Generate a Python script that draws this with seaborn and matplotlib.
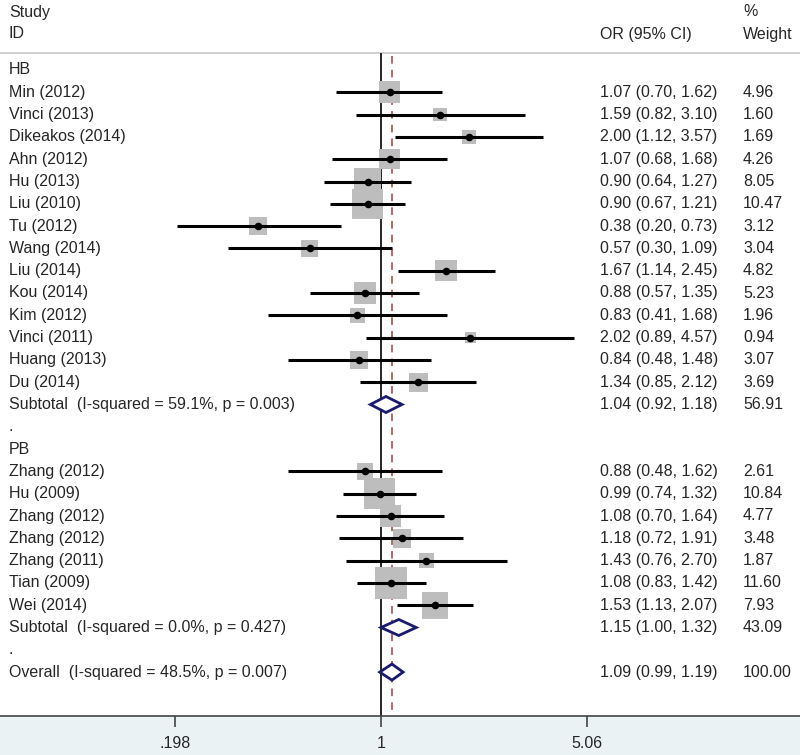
import numpy as np
import pandas as pd
import matplotlib
matplotlib.use("Agg")
import matplotlib.pyplot as plt
import matplotlib.transforms as mtransforms
from matplotlib.patches import Polygon
import seaborn as sns

sns.set_theme(style="white")
plt.rcParams["font.family"] = ["Liberation Sans", "DejaVu Sans"]

# --- dane ---
hb_studies = ["Min (2012)", "Vinci (2013)", "Dikeakos (2014)", "Ahn (2012)", "Hu (2013)",
              "Liu (2010)", "Tu (2012)", "Wang (2014)", "Liu (2014)", "Kou (2014)",
              "Kim (2012)", "Vinci (2011)", "Huang (2013)", "Du (2014)"]
hb_or = [1.07, 1.59, 2.00, 1.07, 0.90, 0.90, 0.38, 0.57, 1.67, 0.88, 0.83, 2.02, 0.84, 1.34]
hb_lo = [0.70, 0.82, 1.12, 0.68, 0.64, 0.67, 0.20, 0.30, 1.14, 0.57, 0.41, 0.89, 0.48, 0.85]
hb_hi = [1.62, 3.10, 3.57, 1.68, 1.27, 1.21, 0.73, 1.09, 2.45, 1.35, 1.68, 4.57, 1.48, 2.12]
hb_w = [4.96, 1.60, 1.69, 4.26, 8.05, 10.47, 3.12, 3.04, 4.82, 5.23, 1.96, 0.94, 3.07, 3.69]

pb_studies = ["Zhang (2012)", "Hu (2009)", "Zhang (2012)", "Zhang (2012)", "Zhang (2011)",
              "Tian (2009)", "Wei (2014)"]
pb_or = [0.88, 0.99, 1.08, 1.18, 1.43, 1.08, 1.53]
pb_lo = [0.48, 0.74, 0.70, 0.72, 0.76, 0.83, 1.13]
pb_hi = [1.62, 1.32, 1.64, 1.91, 2.70, 1.42, 2.07]
pb_w = [2.61, 10.84, 4.77, 3.48, 1.87, 11.60, 7.93]

summary_labels = ["Subtotal  (I-squared = 59.1%, p = 0.003)",
                  "Subtotal  (I-squared = 0.0%, p = 0.427)",
                  "Overall  (I-squared = 48.5%, p = 0.007)"]
summary_or = [1.04, 1.15, 1.09]
summary_lo = [0.92, 1.00, 0.99]
summary_hi = [1.18, 1.32, 1.19]
summary_w = [56.91, 43.09, 100.00]

tick_values = [0.198, 1, 5.06]
tick_labels = [".198", "1", "5.06"]

# --- uklad wierszy ---
rows = []
rows.append(dict(label="HB", kind="head"))
for s, o, l, h, w in zip(hb_studies, hb_or, hb_lo, hb_hi, hb_w):
    rows.append(dict(label=s, kind="study", OR=o, lo=l, hi=h, w=w))
rows.append(dict(label=summary_labels[0], kind="sum", OR=summary_or[0], lo=summary_lo[0],
                 hi=summary_hi[0], w=summary_w[0]))
rows.append(dict(label=".", kind="head"))
rows.append(dict(label="PB", kind="head"))
for s, o, l, h, w in zip(pb_studies, pb_or, pb_lo, pb_hi, pb_w):
    rows.append(dict(label=s, kind="study", OR=o, lo=l, hi=h, w=w))
rows.append(dict(label=summary_labels[1], kind="sum", OR=summary_or[1], lo=summary_lo[1],
                 hi=summary_hi[1], w=summary_w[1]))
rows.append(dict(label=".", kind="head"))
rows.append(dict(label=summary_labels[2], kind="sum", OR=summary_or[2], lo=summary_lo[2],
                 hi=summary_hi[2], w=summary_w[2]))
df = pd.DataFrame(rows)
df["row"] = np.arange(len(df))

W, H = 800, 755
ROW0, STEP = 70, 22.3          # piksel pierwszego wiersza, odstep
X1, PX_PER_LN = 381, 127       # piksel dla OR=1, skala log


def py(pix):
    return (pix - ROW0) / STEP


fig = plt.figure(figsize=(W / 100, H / 100), dpi=100)
ax = fig.add_axes([0, 0, 1, 1])
ax.set_xscale("log")
ax.set_xlim(np.exp(-X1 / PX_PER_LN), np.exp((W - X1) / PX_PER_LN))
ax.set_ylim(py(H), py(0))
ax.axis("off")

axis_y = py(716)
ax.axhspan(axis_y, py(H), color="#eaf2f3", zorder=0)
ax.axhline(axis_y, color="#444444", lw=1.2, zorder=3)
ax.axhline(py(53), color="#c8c8c8", lw=1.2, zorder=1)

# linie referencyjne
ax.vlines(1, py(53), axis_y, color="black", lw=1.2, zorder=2)
ax.vlines(summary_or[2], py(56), axis_y, color="#a04040", lw=1.1,
          linestyles=(0, (5, 4)), zorder=2)

studies = df[df.kind == "study"].copy()
side_px = 8.6 * np.sqrt(studies["w"].values) + 2.5
sns.scatterplot(x=studies["OR"], y=studies["row"], marker="s", s=(side_px * 0.72) ** 2,
                color="#bdbdbd", linewidth=0, ax=ax, zorder=3, legend=False)
ax.hlines(studies["row"], studies["lo"], studies["hi"], color="black", lw=2.2, zorder=4)
sns.scatterplot(x=studies["OR"], y=studies["row"], marker="o", s=30, color="black",
                linewidth=0, ax=ax, zorder=5, legend=False)

# diamenty
dh = 0.36
for _, r in df[df.kind == "sum"].iterrows():
    pts = [(r.lo, r.row), (r.OR, r.row - dh), (r.hi, r.row), (r.OR, r.row + dh)]
    ax.add_patch(Polygon(pts, closed=True, facecolor="white", edgecolor="#1a1a6e",
                         lw=2.0, zorder=6))

# teksty
trans = mtransforms.blended_transform_factory(ax.transAxes, ax.transData)
fs = 11.5
tc = "#262626"


def put(xpix, yrow, txt, **kw):
    ax.text(xpix / W, yrow, txt, transform=trans, fontsize=fs, color=tc,
            va="center", ha="left", **kw)


put(9, py(12), "Study")
put(9, py(34), "ID")
put(600, py(34), "OR (95% CI)")
put(743, py(12), "%")
put(743, py(34), "Weight")

for _, r in df.iterrows():
    put(9, r.row, r.label)
    if r.kind in ("study", "sum"):
        put(600, r.row, f"{r.OR:.2f} ({r.lo:.2f}, {r.hi:.2f})")
        put(743, r.row, f"{r.w:.2f}")

# os X
for v, lab in zip(tick_values, tick_labels):
    ax.vlines(v, axis_y, py(727), color="#444444", lw=1.2, zorder=3)
    ax.text(v, py(743), lab, ha="center", va="center", fontsize=fs, color=tc)

fig.savefig("out.png", dpi=100)
